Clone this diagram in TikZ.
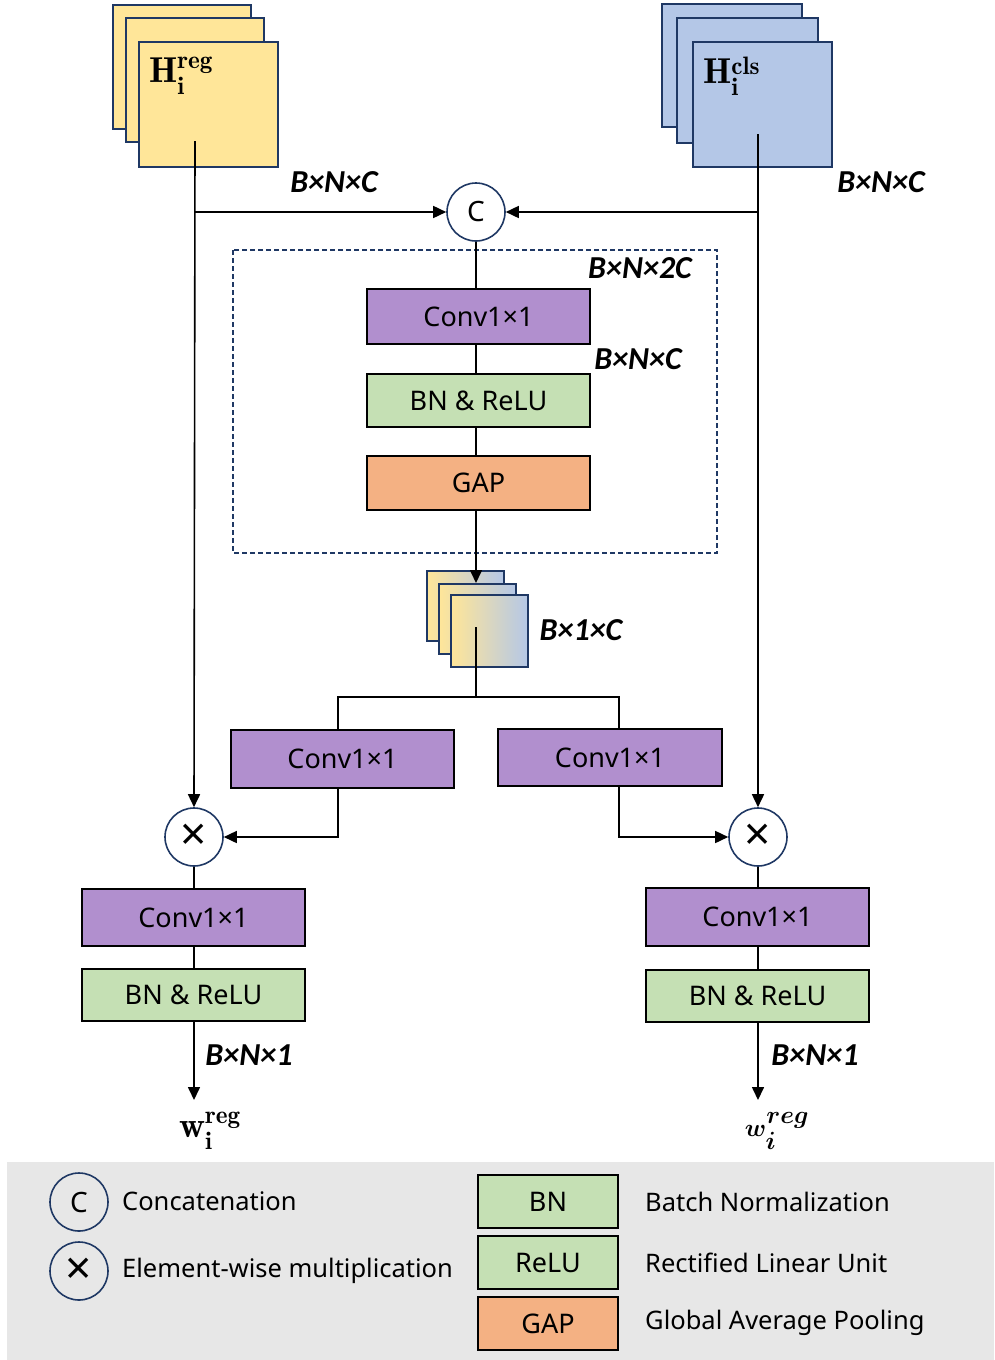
\documentclass[tikz,border=0pt]{standalone}
\usepackage{fontspec}
\usepackage{amsmath,bm}
\newfontfamily\labfont{Noto Sans}
\newfontfamily\dimfont{Carlito}
\usetikzlibrary{arrows.meta,calc}
\definecolor{yel}{HTML}{FFE699}
\definecolor{blu}{HTML}{B4C7E7}
\definecolor{pur}{HTML}{B18FCE}
\definecolor{grn}{HTML}{C5E0B4}
\definecolor{org}{HTML}{F4B183}
\definecolor{navy}{HTML}{1F3864}
\definecolor{legbg}{HTML}{E7E7E7}
\tikzset{
  blk/.style={draw=black, line width=1.6pt, inner sep=0pt, font=\labfont\fontsize{27}{30}\selectfont},
  convbox/.style={blk, fill=pur},
  bnbox/.style={blk, fill=grn},
  gapbox/.style={blk, fill=org},
  sheet/.style={draw=navy, line width=1.6pt, inner sep=0pt, anchor=north west},
  opcirc/.style={circle, draw=navy, line width=1.6pt, fill=white, minimum size=58pt, inner sep=0pt, font=\labfont\fontsize{28}{30}\selectfont},
  mulsign/.style={opcirc, font=\labfont\fontsize{46}{46}\selectfont},
  dimlab/.style={font=\dimfont\bfseries\itshape\fontsize{32}{36}\selectfont, inner sep=0pt},
  legtxt/.style={font=\labfont\fontsize{25.5}{30}\selectfont, anchor=west, inner sep=0pt},
  conn/.style={line width=1.6pt, draw=black},
  arr/.style={conn, -{Triangle[length=13pt,width=12pt]}},
  feat/.style={inner sep=0pt, font=\fontsize{36}{40}\selectfont},
}
\begin{document}
\begin{tikzpicture}[x=1pt,y=-1pt]
\useasboundingbox (0,0) rectangle (994,1360);

% input feature stacks
\node[sheet, fill=yel, minimum width=138pt, minimum height=124pt] (regB) at (112,4) {};
\node[sheet, fill=yel, minimum width=138pt, minimum height=124pt] (regM) at (125,17) {};
\node[sheet, fill=yel, minimum width=139pt, minimum height=125pt] (regF) at (138,41) {};
\node[feat, anchor=west] (regT) at (149,76) {$\mathbf{H}_{\mathbf{i}}^{\mathbf{reg}}$};

\node[sheet, fill=blu, minimum width=140pt, minimum height=123pt] (clsB) at (661,3) {};
\node[sheet, fill=blu, minimum width=141pt, minimum height=125pt] (clsM) at (676,17) {};
\node[sheet, fill=blu, minimum width=139pt, minimum height=125pt] (clsF) at (692,41) {};
\node[feat, anchor=west] (clsT) at (703,76) {$\mathbf{H}_{\mathbf{i}}^{\mathbf{cls}}$};

\coordinate (regS) at (195,141);
\coordinate (clsS) at (758,134);

% concatenation
\node[opcirc] (cat) at (476,212) {C};
\node[dimlab] (d1) at (334,182) {B×N×C};
\node[dimlab] (d2) at (881,182) {B×N×C};

% attention branch
\draw[navy, line width=1.4pt, dash pattern=on 5pt off 3pt] (233,250) rectangle (717,553);
\node[convbox, minimum width=223pt, minimum height=55pt] (convA) at (478.5,316.5) {Conv1×1};
\node[bnbox, minimum width=223pt, minimum height=53pt] (bnA) at (478.5,400.5) {BN \& ReLU};
\node[gapbox, minimum width=223pt, minimum height=54pt] (gapA) at (478.5,483) {GAP};
\node[dimlab] (d3) at (640,268) {B×N×2C};
\node[dimlab] (d4) at (638,359) {B×N×C};

% pooled descriptor
\node[sheet, left color=yel, right color=blu, minimum width=77pt, minimum height=70pt] (gB) at (426,570) {};
\node[sheet, left color=yel, right color=blu, minimum width=77pt, minimum height=70pt] (gM) at (438,583) {};
\node[sheet, left color=yel, right color=blu, minimum width=77pt, minimum height=72pt] (gF) at (450,594) {};
\node[dimlab] (d5) at (581,630) {B×1×C};
\coordinate (gS) at (476,627);
\coordinate (split) at (476,697);

% two weighting convolutions
\node[convbox, minimum width=223pt, minimum height=58pt] (convL) at (342.5,759) {Conv1×1};
\node[convbox, minimum width=224pt, minimum height=57pt] (convR) at (610,757.5) {Conv1×1};
\coordinate (lTop) at (338,730);
\coordinate (lBot) at (338,788);
\coordinate (rTop) at (619,729);
\coordinate (rBot) at (619,786);

% multiplications
\node[mulsign] (mulL) at (194,837) {×};
\node[mulsign] (mulR) at (758,837) {×};

% output heads
\node[convbox, minimum width=223pt, minimum height=57pt] (convLL) at (193.5,917.5) {Conv1×1};
\node[bnbox, minimum width=223pt, minimum height=52pt] (bnLL) at (193.5,995) {BN \& ReLU};
\node[convbox, minimum width=223pt, minimum height=58pt] (convRR) at (757.5,917) {Conv1×1};
\node[bnbox, minimum width=223pt, minimum height=52pt] (bnRR) at (757.5,996) {BN \& ReLU};
\coordinate (outL) at (194,1100);
\coordinate (outR) at (758,1100);
\node[dimlab] (d6) at (249,1055) {B×N×1};
\node[dimlab] (d7) at (815,1055) {B×N×1};
\node[feat] (wL) at (210,1131) {$\mathbf{w}_{\mathbf{i}}^{\mathbf{reg}}$};
\node[feat] (wR) at (777,1131) {$\bm{w}_{\bm{i}}^{\bm{reg}}$};

% connectors
\draw[arr] (regS) -- (mulL.north);
\draw[arr] (clsS) -- (mulR.north);
\draw[arr] (regS |- cat) -- (cat.west);
\draw[arr] (clsS |- cat) -- (cat.east);
\draw[conn] (cat.south) -- (cat.south |- convA.north);
\draw[conn] (cat |- convA.south) -- (cat |- bnA.north);
\draw[conn] (cat |- bnA.south) -- (cat |- gapA.north);
\draw[arr] (cat |- gapA.south) -- (cat |- gM.north);
\draw[conn] (gS) -- (split);
\draw[conn] (split) -| (lTop);
\draw[conn] (split) -| (rTop);
\draw[arr] (lBot) |- (mulL.east);
\draw[arr] (rBot) |- (mulR.west);
\draw[conn] (mulL.south) -- (mulL.south |- convLL.north);
\draw[conn] (mulL |- convLL.south) -- (mulL |- bnLL.north);
\draw[arr] (mulL |- bnLL.south) -- (outL);
\draw[conn] (mulR.south) -- (mulR.south |- convRR.north);
\draw[conn] (mulR |- convRR.south) -- (mulR |- bnRR.north);
\draw[arr] (mulR |- bnRR.south) -- (outR);

% legend
\fill[legbg] (7,1162) rectangle (994,1360);
\node[opcirc, fill=none] (lgC) at (79,1202) {C};
\node[mulsign, fill=none] (lgX) at (79,1271) {×};
\node[legtxt] (tC) at (122,1201) {Concatenation};
\node[legtxt] (tX) at (122,1271) {Element-wise multiplication};
\node[bnbox, minimum width=140pt, minimum height=53pt] (lgBN) at (548,1201.5) {BN};
\node[bnbox, minimum width=140pt, minimum height=53pt] (lgRe) at (548,1262.5) {ReLU};
\node[gapbox, minimum width=140pt, minimum height=53pt] (lgGAP) at (548,1323.5) {GAP};
\node[legtxt] (tBN) at (645,1202) {Batch Normalization};
\node[legtxt] (tRe) at (645,1263) {Rectified Linear Unit};
\node[legtxt] (tGAP) at (645,1323) {Global Average Pooling};
\end{tikzpicture}
\end{document}
